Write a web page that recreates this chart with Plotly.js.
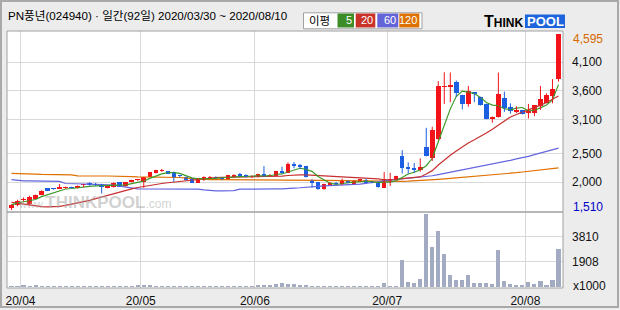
<!DOCTYPE html>
<html><head><meta charset="utf-8">
<script src="https://cdn.plot.ly/plotly-3.0.1.min.js"></script>
<style>
html,body{margin:0;padding:0;background:#ececec;}
#wrap{position:relative;width:620px;height:310px;overflow:hidden;}
#chart{position:absolute;left:0;top:0;width:620px;height:310px;}
#frame{position:absolute;left:0;top:0;width:619px;height:308px;box-sizing:border-box;border:2px solid #a9a9a9;pointer-events:none;}
</style></head><body>
<div id="wrap"><div id="chart"></div><div id="frame"></div></div>
<script>
// ---------------- DATA ----------------
const dates = [
 "03/30","03/31",
 "04/01","04/02","04/03","04/06","04/07","04/08","04/09","04/10","04/13","04/14","04/16","04/17","04/20","04/21","04/22","04/23","04/24","04/27","04/28","04/29",
 "05/04","05/06","05/07","05/08","05/11","05/12","05/13","05/14","05/15","05/18","05/19","05/20","05/21","05/22","05/25","05/26","05/27","05/28","05/29",
 "06/01","06/02","06/03","06/04","06/05","06/08","06/09","06/10","06/11","06/12","06/15","06/16","06/17","06/18","06/19","06/22","06/23","06/24","06/25","06/26","06/29","06/30",
 "07/01","07/02","07/03","07/06","07/07","07/08","07/09","07/10","07/13","07/14","07/15","07/16","07/17","07/20","07/21","07/22","07/23","07/24","07/27","07/28","07/29","07/30","07/31",
 "08/03","08/04","08/05","08/06","08/07","08/10"
];
const openP = [1545,1590,1680,1610,1705,1775,1890,1890,1885,1895,1915,1895,1940,1990,1955,1965,1895,1910,1995,1925,
 2000,2030,2005,2095,2155,2195,2190,2180,2110,2090,2055,1990,2030,2070,2095,2060,2055,2085,2150,2125,
 2085,2085,2140,2110,2105,2195,2165,2315,2300,2280,2025,1995,1870,1955,1990,1965,2025,1965,2005,2040,
 2000,1985,1900,1995,2040,2455,2265,2245,2210,2610,2430,2760,3670,3675,3755,3525,3370,3565,3490,3370,
 3105,3135,3475,3310,3230,3260,3205,3215,3335,3390,3510,3805];
const highP = [1610,1690,1730,1760,1780,1855,1895,1895,1965,1920,1920,1940,1960,1995,1985,1970,1935,1995,2000,2000,
 2040,2055,2090,2175,2215,2230,2195,2185,2125,2095,2065,2070,2100,2105,2100,2075,2125,2135,2160,2135,
 2115,2145,2280,2140,2195,2270,2345,2350,2320,2285,2050,2000,1970,2000,2000,2060,2030,2030,2055,2060,
 2010,1990,2175,2160,2110,2560,2345,2335,2415,2950,2970,3770,3925,3920,3780,3530,3685,3570,3495,3375,
 3150,3920,3585,3380,3330,3265,3370,3350,3685,3555,3805,4595];
const lowP = [1510,1575,1660,1590,1700,1770,1845,1865,1880,1885,1890,1890,1910,1935,1930,1800,1890,1905,1915,1920,
 1995,2020,1900,2090,2150,2180,2145,2005,2080,2030,1985,1985,2020,2060,2065,2040,2050,2080,2100,2075,
 2070,2080,2090,2100,2100,2150,2160,2240,2230,2080,1905,1865,1865,1950,1955,1945,1975,1960,2000,1980,
 1980,1900,1895,1930,2030,2150,2150,2160,2180,2450,2370,2740,3370,3400,3495,3275,3320,3400,3340,3100,
 3040,3130,3230,3200,3210,3185,3115,3155,3265,3380,3380,3760];
const closeP = [1600,1670,1695,1735,1770,1850,1850,1870,1910,1910,1895,1935,1945,1940,1945,1920,1930,1990,1920,1995,
 2035,2040,2085,2170,2210,2205,2150,2095,2100,2035,1990,2065,2090,2095,2075,2050,2120,2125,2105,2085,
 2105,2140,2095,2130,2190,2155,2315,2280,2270,2085,1990,1870,1965,1990,1970,2035,1980,2025,2045,1985,
 1990,1905,2060,2050,2105,2255,2235,2215,2270,2455,2910,3685,3680,3685,3555,3370,3595,3550,3350,3105,
 3140,3545,3290,3250,3260,3190,3250,3345,3455,3520,3625,4595];
const volume = [110,95,120,100,130,110,90,85,100,95,90,100,90,85,95,110,90,100,95,100,
 110,170,180,150,100,90,95,110,90,85,95,100,90,85,80,90,95,85,90,80,
 95,150,160,140,230,300,250,200,160,180,110,100,95,90,85,90,95,85,90,100,
 85,90,327,90,100,2052,403,327,608,5548,3017,4256,2508,912,532,532,912,304,304,304,
 228,2812,481,228,152,152,380,228,481,152,532,2888];
const ma20 = [1645,1630,1610,1595,1578,1568,1565,1565,1575,1590,1610,1630,1650,1680,1710,1740,1765,1795,1825,1850,
 1880,1905,1925,1945,1960,1975,1988,2000,2012,2025,2035,2048,2060,2070,2078,2083,2085,2085,2085,2085,
 2085,2088,2090,2093,2097,2105,2115,2123,2125,2125,2120,2112,2106,2104,2100,2095,2088,2083,2078,2072,
 2065,2055,2040,2040,2045,2060,2068,2075,2090,2140,2200,2300,2390,2470,2545,2620,2685,2740,2795,2860,
 2925,2995,3080,3140,3185,3220,3265,3310,3345,3395,3460,3510];
const ma60 = [2043,2030,2022,2020,2020,2018,2016,2014,2012,1975,1968,1966,1966,1964,1962,1960,1955,1945,1930,1910,
 1895,1880,1878,1878,1878,1878,1878,1878,1878,1878,1878,1876,1862,1848,1845,1845,1845,1850,1875,1878,
 1878,1878,1880,1880,1880,1880,1893,1895,1900,1912,1915,1925,1932,1935,1940,1945,1950,1958,1965,1975,
 1990,2005,2025,2036,2045,2055,2063,2072,2085,2095,2110,2130,2150,2170,2190,2210,2230,2250,2270,2290,
 2310,2330,2355,2380,2405,2425,2450,2480,2510,2540,2570,2595];
const ma120 = [2153,2153,2153,2150,2140,2135,2135,2135,2135,2132,2125,2110,2106,2106,2106,2106,2106,2106,2104,2100,
 2095,2090,2090,2088,2088,2088,2086,2085,2080,2070,2060,2050,2045,2043,2043,2043,2043,2043,2043,2043,
 2043,2043,2043,2043,2043,2043,2043,2043,2040,2038,2035,2030,2028,2026,2025,2025,2023,2020,2018,2015,
 2012,2010,2008,2006,2008,2012,2016,2020,2026,2033,2040,2048,2056,2064,2072,2080,2090,2098,2106,2114,
 2122,2130,2140,2152,2164,2176,2188,2200,2212,2224,2236,2248];
const priceTickVals = [2000,2500,3100,3600,4100];
const priceTickText = ["2,000","2,500","3,100","3,600","4,100"];
const volTickVals = [1908,3810];
const volTickText = ["1908","3810"];
const maxLabel = "4,595", minLabel = "1,510";
const titleText = "PN풍년(024940) · 일간(92일) 2020/03/30 ~ 2020/08/10";
const maNames = ["5","20","60","120"];

// ---------------- DERIVED ----------------
const n = closeP.length;
const idx = closeP.map((_, i) => i);
const ma5 = closeP.map((_, i) => {
  const s = Math.max(0, i - 4); let t = 0;
  for (let k = s; k <= i; k++) t += closeP[k];
  return t / (i - s + 1);
});
const RED = '#f2141a', BLUE = '#1c5fe3';
const up = closeP.map((c, i) => c >= openP[i]);
const bodyBase = closeP.map((c, i) => Math.min(c, openP[i]));
const bodyH = closeP.map((c, i) => Math.max(Math.abs(c - openP[i]), 20));
const bodyCol = up.map(u => u ? RED : BLUE);
function wicks(flag) {
  const xs = [], ys = [];
  for (let i = 0; i < n; i++) if (up[i] === flag) { xs.push(i, i, null); ys.push(lowP[i], highP[i], null); }
  return {xs, ys};
}
const wu = wicks(true), wd = wicks(false);
const tickVals = [], tickText = [];
for (let i = 1; i < n; i++) {
  const m = dates[i].slice(0, 2);
  if (m !== dates[i - 1].slice(0, 2)) { tickVals.push(i - 0.5); tickText.push("20/" + m); }
}

// ---------------- GEOMETRY ----------------
const Lp = 7, Rp = 563, Tp = 31, Bp = 288;
const fx = p => (p - Lp) / (Rp - Lp);
const fy = p => (Bp - p) / (Bp - Tp);
const split = fy(212);

const maLine = (y, c) => ({type:'scatter', mode:'lines', x: idx, y, xaxis:'x', yaxis:'y',
  line:{color:c, width:1.2}, hoverinfo:'skip'});

const traces = [
  maLine(ma120, '#e07000'),
  maLine(ma60, '#6464e0'),
  maLine(ma20, '#c83030'),
  maLine(ma5, '#3c9a28'),
  {type:'scatter', mode:'lines', x: wu.xs, y: wu.ys, xaxis:'x', yaxis:'y', line:{color:RED, width:1}, hoverinfo:'skip'},
  {type:'scatter', mode:'lines', x: wd.xs, y: wd.ys, xaxis:'x', yaxis:'y', line:{color:BLUE, width:1}, hoverinfo:'skip'},
  {type:'bar', x: idx, y: bodyH, base: bodyBase, width: 0.75, xaxis:'x', yaxis:'y',
   marker:{color: bodyCol, line:{width:0}}, hoverinfo:'skip'},
  {type:'bar', x: idx, y: volume, width: 0.68, xaxis:'x', yaxis:'y2',
   marker:{color:'#a3abc3', line:{width:0}}, hoverinfo:'skip'}
];

const labFont = {family:'Liberation Sans, Arial, sans-serif', size:12, color:'#111'};
const grid = '#d9d9d9';
const ann = [];
ann.push({xref:'paper', yref:'paper', x: fx(6), y: fy(15.5), xanchor:'left', yanchor:'middle', showarrow:false,
  text: titleText, font:{family:'Liberation Sans, Noto Sans CJK KR, sans-serif', size:11.6, color:'#000'}});
ann.push({xref:'paper', yref:'paper', x: fx(319), y: fy(20.5), xanchor:'center', yanchor:'middle', showarrow:false,
  text:'이평', font:{family:'Noto Sans CJK KR, sans-serif', size:11.5, color:'#000'}});
const boxes = [[337.5,354,'#3c8c28'],[355.7,375.3,'#c83228'],[377.3,398.3,'#6464d8'],[399.3,419.3,'#dc7000']];
const shapes = [];
shapes.push({type:'rect', xref:'paper', yref:'paper', x0: fx(303.5), x1: fx(422), y0: fy(12.8), y1: fy(28.8),
  fillcolor:'#ffffff', line:{color:'#a0a0a0', width:1}, layer:'above'});
boxes.forEach((b, k) => {
  shapes.push({type:'rect', xref:'paper', yref:'paper', x0: fx(b[0]), x1: fx(b[1]), y0: fy(13.5), y1: fy(27.5),
    fillcolor:b[2], line:{width:0}, layer:'above'});
  ann.push({xref:'paper', yref:'paper', x: fx(b[1] - 1), y: fy(20.5), xanchor:'right', yanchor:'middle', showarrow:false,
    borderpad:0, text: maNames[k], font:{family:'Liberation Sans, Arial, sans-serif', size:11, color:'#ffffff'}});
});
// logo
shapes.push({type:'rect', xref:'paper', yref:'paper', x0: fx(525), x1: fx(565), y0: fy(14.5), y1: fy(28),
  fillcolor:'#1e64dc', line:{width:0}, layer:'above'});
ann.push({xref:'paper', yref:'paper', x: fx(525), y: fy(21.5), xanchor:'right', yanchor:'middle', showarrow:false,
  text:'<b>T<span style="font-size:12px">HINK</span></b>', font:{family:'Liberation Sans, Arial, sans-serif', size:16, color:'#000'}});
ann.push({xref:'paper', yref:'paper', x: fx(545), y: fy(21.5), xanchor:'center', yanchor:'middle', showarrow:false,
  text:'<b>POOL</b>', font:{family:'Liberation Sans, Arial, sans-serif', size:13, color:'#ffffff'}});
// watermark
ann.push({xref:'paper', yref:'paper', x: fx(94), y: fy(202), xanchor:'center', yanchor:'middle', showarrow:false,
  text:'<span style="font-size:11px">www.</span><b>THINKPOOL</b><span style="font-size:12px">.com</span>',
  font:{family:'Liberation Sans, Arial, sans-serif', size:17, color:'rgba(170,170,170,0.55)'}});
// max / min / unit labels
ann.push({xref:'paper', yref:'y', x: fx(571), y: highP[n-1], yshift:-5, xanchor:'left', yanchor:'middle', showarrow:false,
  text: maxLabel, font:{family:'Liberation Sans, Arial, sans-serif', size:12, color:'#d66a00'}});
ann.push({xref:'paper', yref:'y', x: fx(571), y: Math.min(...lowP), yshift:3, xanchor:'left', yanchor:'middle', showarrow:false,
  text: minLabel, font:{family:'Liberation Sans, Arial, sans-serif', size:12, color:'#0000c8'}});
ann.push({xref:'paper', yref:'y2', x: fx(571), y: 0, yshift:1, xanchor:'left', yanchor:'middle', showarrow:false,
  text: 'x1000', font:{family:'Liberation Sans, Arial, sans-serif', size:12, color:'#111'}});
// plot borders
shapes.push({type:'rect', xref:'paper', yref:'paper', x0:0, x1:1, y0:0, y1:1, line:{color:'#a0a0a0', width:1}, layer:'above'});
shapes.push({type:'line', xref:'paper', yref:'paper', x0:0, x1:1, y0:split, y1:split, line:{color:'#a0a0a0', width:1.5}, layer:'above'});

const layout = {
  width:620, height:310,
  margin:{l:Lp, r:620-Rp, t:Tp, b:310-Bp, pad:0},
  paper_bgcolor:'#ececec', plot_bgcolor:'#ffffff',
  showlegend:false, barmode:'overlay', bargap:0,
  font: labFont,
  xaxis:{anchor:'y2', domain:[0,1], range:[-0.75, n - 0.25], tickmode:'array', tickvals: tickVals, ticktext: tickText,
    showgrid:true, gridcolor:grid, gridwidth:1, zeroline:false, showline:false, ticks:'', ticklabelstandoff:4,
    tickfont: labFont, fixedrange:true},
  yaxis:{domain:[split,1], range:[1475,4648], side:'right', tickmode:'array', tickvals: priceTickVals, ticktext: priceTickText,
    showgrid:true, gridcolor:grid, gridwidth:1, zeroline:false, showline:false, ticks:'', ticklabelstandoff:8,
    tickfont: labFont, fixedrange:true},
  yaxis2:{domain:[0,split], range:[-76,5700], side:'right', tickmode:'array', tickvals: volTickVals, ticktext: volTickText,
    showgrid:true, gridcolor:grid, gridwidth:1, zeroline:false, showline:false, ticks:'', ticklabelstandoff:8,
    tickfont: labFont, fixedrange:true},
  shapes, annotations: ann
};
Plotly.newPlot('chart', traces, layout, {staticPlot:true, displayModeBar:false});
</script>
</body></html>
